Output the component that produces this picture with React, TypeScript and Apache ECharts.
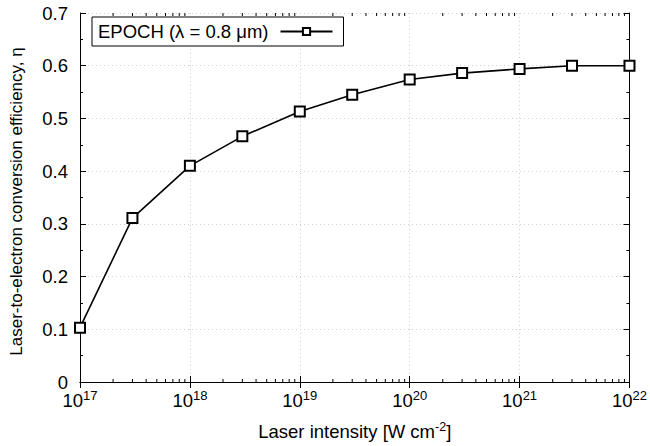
import React, { useEffect, useRef } from "react";
import * as echarts from "echarts";

const intensities = [1e17, 3e17, 1e18, 3e18, 1e19, 3e19, 1e20, 3e20, 1e21, 3e21, 1e22];
const efficiency = [0.103, 0.311, 0.41, 0.466, 0.513, 0.545, 0.574, 0.586, 0.594, 0.6, 0.6];
const seriesName = "EPOCH (λ = 0.8 μm)";
const decades = [17, 18, 19, 20, 21];
const minorMultipliers = [2, 3, 4, 5, 6, 7, 8, 9];

const FONT = "Liberation Sans, Arial, Helvetica, sans-serif";

export default function App() {
  const ref = useRef<HTMLDivElement>(null);
  useEffect(() => {
    if (!ref.current) return;
    const chart = echarts.init(ref.current, undefined, { renderer: "svg" });
    const minorTicks: number[][] = [];
    decades.forEach((d) => minorMultipliers.forEach((m) => minorTicks.push([m * Math.pow(10, d), 0])));

    const supLabel = (v: number) => `{b|10}{s|${Math.round(Math.log10(v))}}`;

    chart.setOption({
      animation: false,
      backgroundColor: "#fff",
      textStyle: { fontFamily: FONT },
      grid: { left: 80, right: 19, top: 13, bottom: 62, containLabel: false },
      legend: {
        left: 92,
        top: 17,
        align: "right",
        itemWidth: 52,
        itemHeight: 9,
        padding: [5, 10, 5, 6],
        borderColor: "#000",
        borderWidth: 1,
        backgroundColor: "#fff",
        textStyle: { fontSize: 18.5, color: "#000", fontFamily: FONT, padding: [0, 7, 0, 0] },
        data: [seriesName],
      },
      xAxis: [
        {
          type: "log",
          logBase: 10,
          min: 1e17,
          max: 1e22,
          position: "bottom",
          name: "Laser intensity [W cm{s|-2}]",
          nameLocation: "middle",
          nameGap: 38,
          nameTextStyle: {
            fontSize: 18.5,
            color: "#000",
            fontFamily: FONT,
            rich: { s: { fontSize: 12.5, fontFamily: FONT, color: "#000", padding: [0, 0, 10, 0] } },
          },
          axisLine: { show: true, lineStyle: { color: "#000", width: 1 } },
          axisTick: { show: true, inside: true, length: 6, lineStyle: { color: "#000" } },
          axisLabel: {
            color: "#000",
            margin: 7,
            formatter: supLabel,
            rich: {
              b: { fontSize: 18.5, fontFamily: FONT, color: "#000" },
              s: { fontSize: 13, fontFamily: FONT, color: "#000", padding: [0, 0, 10, 0] },
            },
          },
          splitLine: { show: true, lineStyle: { color: "#d0d0d0", type: [1, 3], width: 1 } },
        },
        {
          type: "log",
          logBase: 10,
          min: 1e17,
          max: 1e22,
          position: "top",
          axisLine: { show: true, lineStyle: { color: "#000", width: 1 } },
          axisTick: { show: true, inside: true, length: 6, lineStyle: { color: "#000" } },
          axisLabel: { show: false },
          splitLine: { show: false },
        },
      ],
      yAxis: [
        {
          type: "value",
          min: 0,
          max: 0.7,
          interval: 0.1,
          position: "left",
          name: "Laser-to-electron conversion efficiency, η",
          nameLocation: "middle",
          nameRotate: 90,
          nameGap: 55,
          nameTextStyle: { fontSize: 17, color: "#000", fontFamily: FONT, padding: [0, 8, 0, 0] },
          axisLine: { show: true, lineStyle: { color: "#000", width: 1 } },
          axisTick: { show: true, inside: true, length: 6, lineStyle: { color: "#000" } },
          minorTick: { show: true, splitNumber: 2, length: 3, lineStyle: { color: "#000" } },
          axisLabel: {
            color: "#000",
            fontSize: 18.5,
            fontFamily: FONT,
            margin: 12,
            formatter: (v: number) => (Math.round(v * 10) / 10).toString(),
          },
          splitLine: { show: true, lineStyle: { color: "#d0d0d0", type: [1, 3], width: 1 } },
        },
        {
          type: "value",
          min: 0,
          max: 0.7,
          interval: 0.1,
          position: "right",
          axisLine: { show: true, lineStyle: { color: "#000", width: 1 } },
          axisTick: { show: true, inside: true, length: 6, lineStyle: { color: "#000" } },
          minorTick: { show: true, splitNumber: 2, length: 3, lineStyle: { color: "#000" } },
          axisLabel: { show: false },
          splitLine: { show: false },
        },
      ],
      series: [
        {
          type: "custom",
          silent: true,
          clip: false,
          xAxisIndex: 0,
          yAxisIndex: 0,
          data: minorTicks,
          renderItem: (params: any, api: any) => {
            const x = api.value(0);
            const b = api.coord([x, 0]);
            const t = api.coord([x, 0.7]);
            return {
              type: "group",
              children: [
                { type: "line", shape: { x1: b[0], y1: b[1], x2: b[0], y2: b[1] - 3 }, style: { stroke: "#000", lineWidth: 1 } },
                { type: "line", shape: { x1: t[0], y1: t[1], x2: t[0], y2: t[1] + 3 }, style: { stroke: "#000", lineWidth: 1 } },
              ],
            };
          },
          z: 1,
        },
        {
          name: seriesName,
          type: "line",
          xAxisIndex: 0,
          yAxisIndex: 0,
          data: intensities.map((x, i) => [x, efficiency[i]]),
          symbol: "emptyRect",
          symbolSize: 10,
          lineStyle: { color: "#000", width: 1.6 },
          itemStyle: { color: "#000", borderColor: "#000", borderWidth: 1.8 },
          z: 3,
        },
      ],
    });
    return () => chart.dispose();
  }, []);
  return <div ref={ref} style={{ width: 650, height: 446, position: "absolute", left: 0, top: 0 }} />;
}
